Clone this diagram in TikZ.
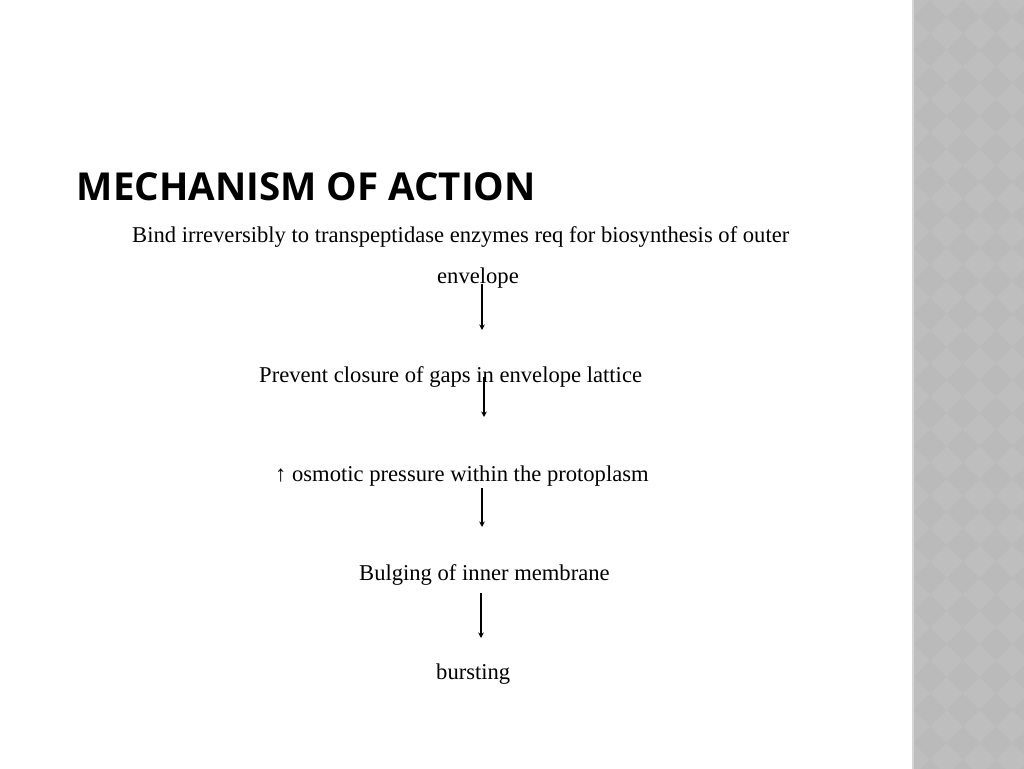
\documentclass[tikz,border=0pt]{standalone}
\usepackage{fontspec}
\setmainfont{Liberation Serif}
\newfontfamily\titlefont{Open Sans}
\usetikzlibrary{arrows.meta}
\definecolor{stripbase}{HTML}{BEBEBE}
\definecolor{stripdark}{HTML}{BABABA}
\definecolor{stripedge}{HTML}{D4D4D4}
\tikzset{
  body/.style={font=\fontsize{22.6}{27}\selectfont, anchor=base west, inner sep=0pt},
  heading/.style={font=\titlefont\bfseries\fontsize{38.5}{46}\selectfont, anchor=base west, inner sep=0pt},
  flowarrow/.style={-{Stealth[length=5.5pt,width=5.5pt]}, line width=1.2pt, black}
}
\begin{document}
\begin{tikzpicture}[x=1pt,y=-1pt]
\useasboundingbox (0,0) rectangle (1024,768);
\fill[white] (0,0) rectangle (1024,768);
% patterned strip
\begin{scope}
\clip (913,-4) rectangle (1028,772);
\fill[stripbase] (913,-4) rectangle (1028,772);
\foreach \j in {-1,...,24}{
  \foreach \i in {-1,...,3}{
    \pgfmathsetmacro{\cx}{930+\i*33}
    \pgfmathsetmacro{\cy}{17+\j*33}
    \fill[stripdark] (\cx-16.5,\cy) -- (\cx,\cy-16.5) -- (\cx+16.5,\cy) -- (\cx,\cy+16.5) -- cycle;
  }
}
\end{scope}
\fill[stripedge] (912,-4) rectangle (914,772);
% texts
\node[heading] (title) at (76.5,200) {MECHANISM OF ACTION};
\node[body] (t1) at (132,242) {Bind irreversibly to transpeptidase enzymes req for biosynthesis of outer};
\node[body] (t1b) at (437,283) {envelope};
\node[body] (t2) at (259,382) {Prevent closure of gaps in envelope lattice};
\node[body] (t3) at (275,481) {↑ osmotic pressure within the protoplasm};
\node[body] (t4) at (359,580) {Bulging of inner membrane};
\node[body] (t5) at (436,679) {bursting};
% arrows
\coordinate (a1s) at (482,284);
\coordinate (a1e) at (482,330);
\coordinate (a2s) at (484,377);
\coordinate (a2e) at (484,417);
\coordinate (a3s) at (482,488);
\coordinate (a3e) at (482,527);
\coordinate (a4s) at (481,593);
\coordinate (a4e) at (481,638);
\draw[flowarrow] (a1s) -- (a1e);
\draw[flowarrow] (a2s) -- (a2e);
\draw[flowarrow] (a3s) -- (a3e);
\draw[flowarrow] (a4s) -- (a4e);
\end{tikzpicture}
\end{document}
